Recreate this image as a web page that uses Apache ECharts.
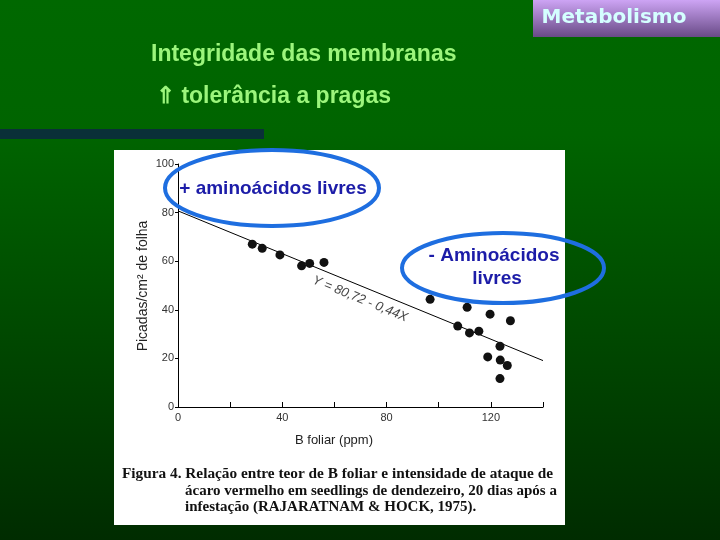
<!DOCTYPE html>
<html><head><meta charset="utf-8">
<script src="https://cdn.jsdelivr.net/npm/echarts@6/dist/echarts.min.js"></script>
<style>html,body{margin:0;padding:0;background:#005500}#c{width:720px;height:540px}</style>
</head><body><div id="c"></div>
<script>
// B foliar (ppm) and Picadas/cm² de folha
var boronX = [28.5, 32.3, 39.1, 47.4, 50.5, 56.0, 96.7, 110.9, 119.7, 127.5, 107.3, 111.8, 115.4, 123.5, 118.8, 123.6, 126.3, 123.5];
var bitesY = [67.0, 65.3, 62.6, 58.1, 59.1, 59.5, 44.3, 41.0, 38.2, 35.5, 33.3, 30.5, 31.2, 25.0, 20.6, 19.3, 17.1, 11.7];
// regression line end points (Y = 80,72 - 0,44X)
var fitX = [0, 140];
var fitY = [80.7, 19.1];
var xTickLabels = ['0', '40', '80', '120'];
var yTickLabels = ['0', '20', '40', '60', '80', '100'];

var chart = echarts.init(document.getElementById('c'), null, {renderer: 'canvas'});
var pts = boronX.map(function (x, i) { return [x, bitesY[i]]; });
var fit = fitX.map(function (x, i) { return [x, fitY[i]]; });
var axisFont = {color: '#333', fontSize: 11, fontFamily: 'Liberation Sans'};

var option = {
  animation: false,
  grid: {left: 178, right: 177, top: 164, bottom: 133, containLabel: false},
  xAxis: {
    type: 'value', min: 0, max: 140, interval: 20,
    axisLine: {show: true, lineStyle: {color: '#000', width: 1}},
    axisTick: {show: true, inside: true, length: 5, lineStyle: {color: '#000'}},
    splitLine: {show: false},
    axisLabel: Object.assign({margin: 5, formatter: function (v) {
      return xTickLabels.indexOf(String(v)) >= 0 ? String(v) : '';
    }}, axisFont)
  },
  yAxis: {
    type: 'value', min: 0, max: 100, interval: 20,
    axisLine: {show: true, lineStyle: {color: '#000', width: 1}},
    axisTick: {show: true, inside: false, length: 3, lineStyle: {color: '#000'}},
    splitLine: {show: false},
    axisLabel: Object.assign({margin: 4, formatter: function (v) {
      return yTickLabels.indexOf(String(v)) >= 0 ? String(v) : '';
    }}, axisFont)
  },
  series: [
    {type: 'line', data: fit, symbol: 'none', lineStyle: {color: '#000', width: 1}, z: 2},
    {type: 'scatter', data: pts, symbol: 'circle', symbolSize: 9, itemStyle: {color: '#111', opacity: 1}, z: 3}
  ],
  graphic: [
    {type: 'rect', z: -100, shape: {x: 0, y: 0, width: 720, height: 540},
     style: {fill: new echarts.graphic.LinearGradient(0, 0, 0, 1, [
       {offset: 0, color: '#006800'}, {offset: 0.25, color: '#006400'}, {offset: 1, color: '#002c00'}])}},
    {type: 'rect', z: -90, shape: {x: 533, y: 0, width: 187, height: 37},
     style: {fill: new echarts.graphic.LinearGradient(0, 0, 0, 1, [
       {offset: 0, color: '#cda4f4'}, {offset: 1, color: '#684a86'}])}},
    {type: 'text', z: 50, x: 614, y: 18,
     style: {text: 'Metabolismo', fill: '#d4ffff', font: 'bold 20px "DejaVu Sans"', align: 'center', verticalAlign: 'middle'}},
    {type: 'text', z: 50, x: 151, y: 55,
     style: {text: 'Integridade das membranas', fill: '#9cf57c', font: 'bold 23px "Liberation Sans"', verticalAlign: 'middle'}},
    {type: 'text', z: 50, x: 156, y: 97,
     style: {text: '⇑ tolerância a pragas', fill: '#9cf57c', font: 'bold 23px "Liberation Sans"', verticalAlign: 'middle'}},
    {type: 'rect', z: -90, shape: {x: 0, y: 129, width: 264, height: 10}, style: {fill: '#0a3038'}},
    {type: 'rect', z: -80, shape: {x: 114, y: 150, width: 451, height: 375}, style: {fill: '#ffffff'}},
    {type: 'text', z: 50, x: 143, y: 286, rotation: Math.PI / 2,
     style: {text: 'Picadas/cm² de folha', fill: '#222', font: '14px "Liberation Sans"', align: 'center', verticalAlign: 'middle'}},
    {type: 'text', z: 50, x: 334, y: 440,
     style: {text: 'B foliar (ppm)', fill: '#222', font: '13px "Liberation Sans"', align: 'center', verticalAlign: 'middle'}},
    {type: 'text', z: 50, x: 360, y: 299, rotation: -0.39,
     style: {text: 'Y = 80,72 - 0,44X', fill: '#444', font: 'italic 13px "Liberation Sans"', align: 'center', verticalAlign: 'middle'}},
    {type: 'text', z: 50, x: 122, y: 474,
     style: {text: 'Figura 4. Relação entre teor de B foliar e intensidade de ataque de', fill: '#111', font: 'bold 15.3px "Liberation Serif"', verticalAlign: 'middle'}},
    {type: 'text', z: 50, x: 185, y: 491,
     style: {text: 'ácaro vermelho em seedlings de dendezeiro, 20 dias após a', fill: '#111', font: 'bold 15px "Liberation Serif"', verticalAlign: 'middle'}},
    {type: 'text', z: 50, x: 185, y: 507,
     style: {text: 'infestação (RAJARATNAM & HOCK, 1975).', fill: '#111', font: 'bold 15px "Liberation Serif"', verticalAlign: 'middle'}},
    {type: 'ellipse', z: 100, shape: {cx: 272, cy: 188, rx: 107, ry: 38},
     style: {fill: 'none', stroke: '#1e6ee0', lineWidth: 4}},
    {type: 'text', z: 101, x: 273, y: 189,
     style: {text: '+ aminoácidos livres', fill: '#1c1ca8', font: 'bold 19px "Liberation Sans"', align: 'center', verticalAlign: 'middle'}},
    {type: 'ellipse', z: 100, shape: {cx: 503, cy: 268, rx: 101, ry: 35},
     style: {fill: 'none', stroke: '#1e6ee0', lineWidth: 4}},
    {type: 'text', z: 101, x: 494, y: 256,
     style: {text: '- Aminoácidos', fill: '#1c1ca8', font: 'bold 19px "Liberation Sans"', align: 'center', verticalAlign: 'middle'}},
    {type: 'text', z: 101, x: 497, y: 279,
     style: {text: 'livres', fill: '#1c1ca8', font: 'bold 19px "Liberation Sans"', align: 'center', verticalAlign: 'middle'}}
  ]
};
chart.setOption(option);
</script></body></html>
